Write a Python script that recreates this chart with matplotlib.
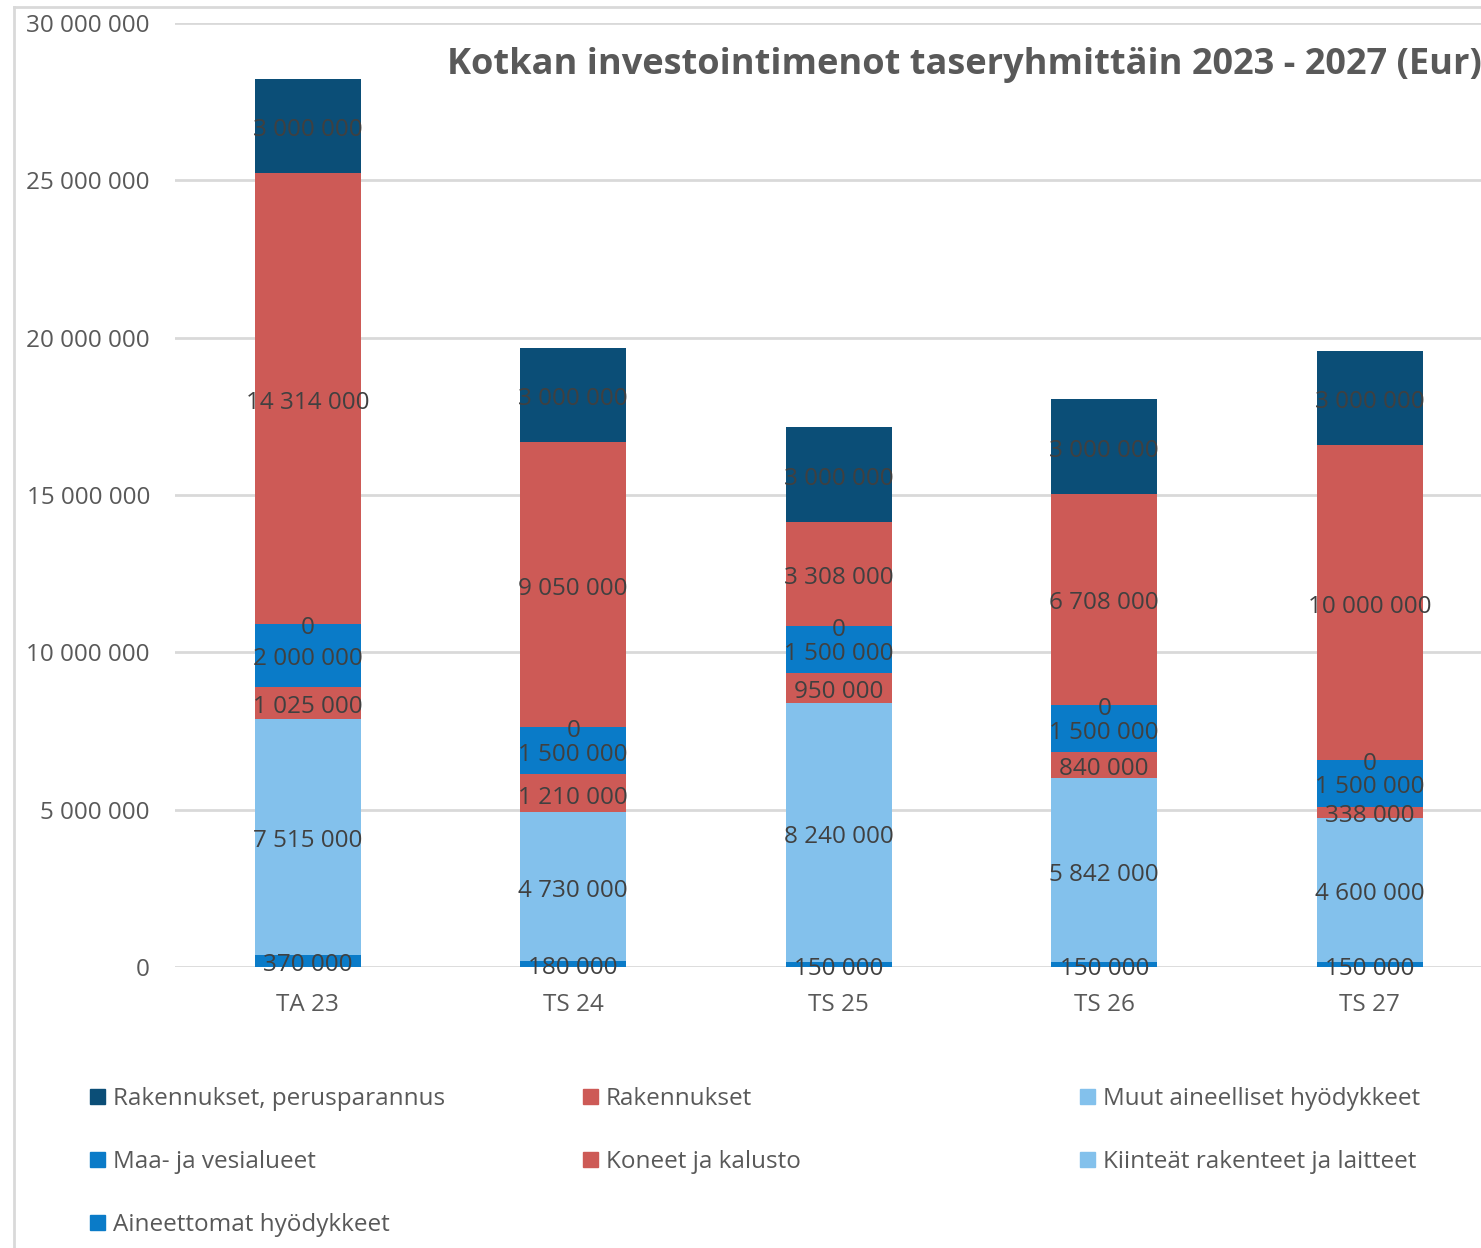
import matplotlib
matplotlib.use("Agg")
import matplotlib.pyplot as plt
from matplotlib.patches import Rectangle
from matplotlib.lines import Line2D
import numpy as np

# data (bottom -> top of each stack)
categories = ["TA 23", "TS 24", "TS 25", "TS 26", "TS 27"]
aineettomat = [370000, 180000, 150000, 150000, 150000]
kiinteat = [7515000, 4730000, 8240000, 5842000, 4600000]
koneet = [1025000, 1210000, 950000, 840000, 338000]
maa_vesi = [2000000, 1500000, 1500000, 1500000, 1500000]
muut = [0, 0, 0, 0, 0]
rakennukset = [14314000, 9050000, 3308000, 6708000, 10000000]
perusparannus = [3000000, 3000000, 3000000, 3000000, 3000000]

series_names = ["Aineettomat hyödykkeet", "Kiinteät rakenteet ja laitteet",
                "Koneet ja kalusto", "Maa- ja vesialueet",
                "Muut aineelliset hyödykkeet", "Rakennukset",
                "Rakennukset, perusparannus"]
series_vals = [aineettomat, kiinteat, koneet, maa_vesi, muut, rakennukset, perusparannus]
series_cols = ["#0A7BC8", "#83C1EC", "#CD5A56", "#0A7BC8", "#83C1EC", "#CD5A56", "#0B4E77"]

# legend order as in the picture (row by row)
legend_order = [6, 5, 4, 3, 2, 1, 0]

plt.rcParams['font.family'] = ['Open Sans', 'DejaVu Sans']

W, H = 1481, 1248
fig = plt.figure(figsize=(W / 100, H / 100), dpi=100)


def fx(px):
    return px / W


def fy(py):
    return 1 - py / H


ax = fig.add_axes([fx(175), fy(967), fx(5 * 265.5), (967 - 23) / H])

x = np.arange(len(categories))
bottom = np.zeros(len(categories))


def fmt_num(v):
    return f"{v:,.0f}".replace(",", " ")


for name, vals, col in zip(series_names, series_vals, series_cols):
    vals = np.array(vals, dtype=float)
    bars = ax.bar(x, vals, width=0.4, bottom=bottom, color=col, label=name, zorder=2)
    texts = ax.bar_label(bars, labels=[fmt_num(v) for v in vals], label_type='center',
                         color='#404040', fontsize=17.5, zorder=3)
    for t in texts:
        t.xyann = (0, -3)
    bottom += vals

ax.set_xlim(-0.5, 4.5)
ax.set_ylim(0, 30000000)
ax.set_yticks(np.arange(0, 30000001, 5000000))
ax.set_yticklabels([fmt_num(v) for v in np.arange(0, 30000001, 5000000)])
ax.set_xticks(x)
ax.set_xticklabels(categories)
ax.tick_params(axis='y', length=0, pad=18, labelsize=17.5, labelcolor='#595959')
ax.tick_params(axis='x', length=0, pad=19, labelsize=17.5, labelcolor='#595959')
ax.yaxis.grid(True, color='#D9D9D9', linewidth=2)
ax.set_axisbelow(True)
for s in ax.spines.values():
    s.set_visible(False)
ax.patch.set_alpha(0)

# title
fig.text(fx(447), fy(65), "Kotkan investointimenot taseryhmittäin 2023 - 2027 (Eur)",
         ha='left', va='center', fontsize=26, fontweight='bold', color='#595959')

# chart border
fig.add_artist(Line2D([fx(14), fx(14)], [0, fy(7)], color='#D9D9D9', lw=2))
fig.add_artist(Line2D([fx(14), 1], [fy(7), fy(7)], color='#D9D9D9', lw=2))

# legend, three columns filled row by row
col_x = [90, 583, 1080]
row_y = [1096, 1159, 1222]
for k, idx in enumerate(legend_order):
    cx = col_x[k % 3]
    cy = row_y[k // 3]
    fig.add_artist(Rectangle((fx(cx), fy(cy + 8)), fx(15), 15 / H,
                             color=series_cols[idx], transform=fig.transFigure))
    fig.text(fx(cx + 23), fy(cy + 3), series_names[idx], ha='left', va='center',
             fontsize=17.5, color='#595959')

fig.savefig("out.png", dpi=100)
